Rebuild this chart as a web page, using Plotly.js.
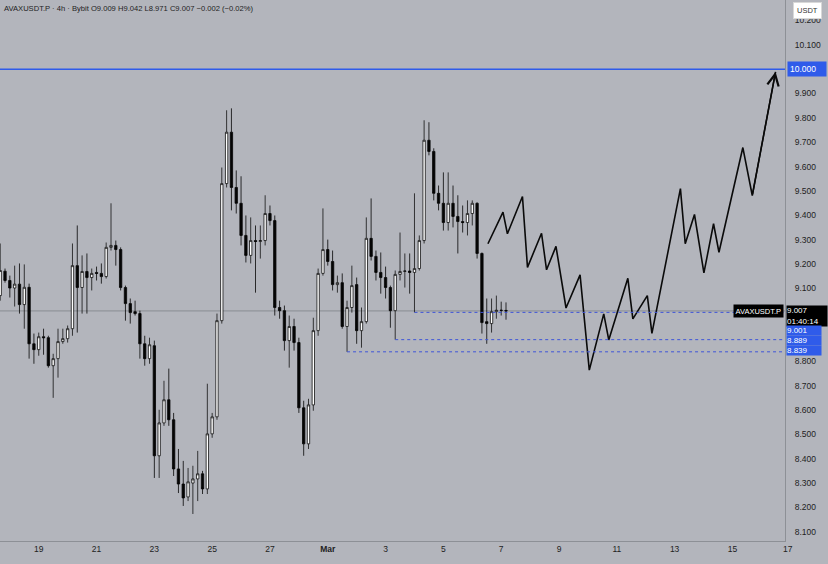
<!DOCTYPE html>
<html>
<head>
<meta charset="utf-8">
<script src="https://cdn.plot.ly/plotly-3.0.1.min.js"></script>
<style>
html,body{margin:0;padding:0;background:#b3b5bc;}
#chart{width:828px;height:564px;}
</style>
</head>
<body>
<div id="chart"></div>
<script>
// ---- DATA ----
const candleStart = '2023-02-17T16:00:00Z';   // first (partially visible) 4h candle
const candleStepHours = 4;

const openP = [
 9.070, 9.170, 9.132, 9.101, 9.117, 9.033, 9.104, 8.872, 8.848, 8.901,
 8.897, 8.782, 8.811, 8.881, 8.893, 8.934, 9.193, 9.103, 9.169, 9.144,
 9.165, 9.161, 9.148, 9.268, 9.276, 9.259, 9.103, 9.037, 9.004, 8.996,
 8.872, 8.811, 8.864, 8.412, 8.547, 8.642, 8.560, 8.358, 8.296, 8.243,
 8.300, 8.317, 8.338, 8.276, 8.502, 8.572, 8.967, 9.530, 9.741, 9.514,
 9.449, 9.317, 9.235, 9.296, 9.292, 9.296, 9.407, 9.378, 9.021, 9.008,
 8.885, 8.943, 8.877, 8.609, 8.461, 8.621, 8.926, 9.161, 9.259, 9.210,
 9.115, 9.123, 8.943, 9.021, 9.115, 8.926, 8.963, 9.305, 9.231, 9.165,
 9.144, 9.103, 9.008, 9.157, 9.169, 9.171, 9.165, 9.181, 9.296, 9.708,
 9.662, 9.490, 9.449, 9.370, 9.449, 9.395, 9.374, 9.370, 9.407, 9.449,
 9.243, 8.963, 8.955, 9.004, 9.010, 9.009];
const highP = [
 9.284, 9.181, 9.152, 9.193, 9.202, 9.198, 9.119, 8.914, 8.918, 8.934,
 8.905, 8.831, 8.934, 8.934, 8.947, 9.284, 9.358, 9.235, 9.243, 9.181,
 9.189, 9.202, 9.288, 9.449, 9.296, 9.268, 9.111, 9.058, 9.049, 9.008,
 8.905, 8.897, 8.885, 8.601, 8.720, 8.770, 8.588, 8.440, 8.391, 8.362,
 8.371, 8.432, 8.350, 8.708, 8.588, 8.996, 9.596, 9.831, 9.839, 9.584,
 9.560, 9.399, 9.391, 9.358, 9.358, 9.482, 9.440, 9.399, 9.049, 9.029,
 8.988, 8.975, 8.897, 8.638, 8.646, 8.979, 9.181, 9.428, 9.300, 9.255,
 9.152, 9.161, 9.049, 9.193, 9.144, 9.021, 9.391, 9.469, 9.255, 9.247,
 9.189, 9.111, 9.173, 9.329, 9.243, 9.243, 9.490, 9.317, 9.790, 9.782,
 9.675, 9.522, 9.576, 9.576, 9.522, 9.482, 9.440, 9.461, 9.461, 9.453,
 9.247, 9.058, 9.058, 9.070, 9.045, 9.042];
const lowP = [
 9.049, 9.123, 9.062, 9.025, 8.996, 8.934, 8.811, 8.790, 8.823, 8.827,
 8.774, 8.650, 8.733, 8.872, 8.877, 8.905, 8.918, 8.996, 8.996, 9.091,
 9.132, 9.119, 9.140, 9.255, 9.193, 9.091, 8.967, 8.955, 8.988, 8.811,
 8.782, 8.790, 8.321, 8.321, 8.535, 8.535, 8.329, 8.259, 8.206, 8.226,
 8.173, 8.226, 8.255, 8.255, 8.486, 8.560, 8.955, 9.514, 9.420, 9.407,
 9.276, 9.206, 9.202, 9.082, 9.222, 9.276, 9.358, 8.988, 8.975, 8.844,
 8.774, 8.844, 8.588, 8.412, 8.440, 8.597, 8.905, 9.152, 9.193, 9.091,
 9.082, 8.934, 8.839, 9.000, 8.872, 8.856, 8.955, 9.214, 9.132, 9.078,
 9.058, 8.938, 8.889, 9.132, 9.103, 9.078, 9.001, 9.173, 9.284, 9.646,
 9.461, 9.420, 9.337, 9.337, 9.350, 9.243, 9.329, 9.317, 9.358, 9.222,
 8.914, 8.872, 8.918, 8.975, 8.988, 8.971];
const closeP = [
 9.173, 9.132, 9.101, 9.117, 9.033, 9.104, 8.872, 8.848, 8.901, 8.897,
 8.782, 8.811, 8.881, 8.893, 8.934, 9.193, 9.103, 9.169, 9.144, 9.161,
 9.161, 9.148, 9.268, 9.276, 9.259, 9.103, 9.037, 9.000, 8.996, 8.872,
 8.811, 8.868, 8.412, 8.547, 8.642, 8.560, 8.358, 8.296, 8.239, 8.305,
 8.317, 8.338, 8.276, 8.502, 8.572, 8.967, 9.530, 9.741, 9.514, 9.449,
 9.317, 9.235, 9.296, 9.292, 9.296, 9.407, 9.378, 9.021, 9.008, 8.885,
 8.943, 8.877, 8.609, 8.461, 8.621, 8.926, 9.161, 9.259, 9.210, 9.115,
 9.123, 8.943, 9.021, 9.111, 8.926, 8.963, 9.305, 9.231, 9.165, 9.144,
 9.103, 9.008, 9.157, 9.169, 9.171, 9.165, 9.181, 9.296, 9.708, 9.662,
 9.490, 9.449, 9.370, 9.449, 9.395, 9.374, 9.370, 9.407, 9.449, 9.243,
 8.959, 8.955, 9.004, 9.010, 9.009, 9.007];

// projected path (hand-drawn zig-zag)
const pathTime = ['2023-03-06 13:00','2023-03-07 01:30','2023-03-07 05:10','2023-03-07 17:40','2023-03-07 21:50',
 '2023-03-08 09:30','2023-03-08 13:40','2023-03-08 21:30','2023-03-09 05:50','2023-03-09 17:30',
 '2023-03-10 01:10','2023-03-10 13:10','2023-03-10 17:20','2023-03-11 09:10','2023-03-11 13:20',
 '2023-03-12 01:20','2023-03-12 05:10','2023-03-13 04:50','2023-03-13 08:50','2023-03-13 16:30',
 '2023-03-14 00:20','2023-03-14 08:20','2023-03-14 12:50','2023-03-15 08:40','2023-03-15 16:30',
 '2023-03-16 11:50'];
const pathPrice = [9.283, 9.413, 9.324, 9.477, 9.186, 9.326, 9.176, 9.272, 9.019, 9.155,
 8.764, 8.995, 8.888, 9.141, 8.974, 9.070, 8.915, 9.509, 9.283, 9.403,
 9.163, 9.365, 9.248, 9.678, 9.481, 9.989];

// levels
const targetLevel = 10.000;
const lastPrice = 9.007;
const supportLevels = [9.001, 8.889, 8.839];
const supportStart = ['2023-03-04 00:00', '2023-03-03 08:00', '2023-03-01 16:00'];

// axes
const xRange = ['2023-02-17 15:50', '2023-03-16 19:40'];
const yRange = [8.062, 10.284];
const xTickVals = ['2023-02-19','2023-02-21','2023-02-23','2023-02-25','2023-02-27','2023-03-01','2023-03-03',
 '2023-03-05','2023-03-07','2023-03-09','2023-03-11','2023-03-13','2023-03-15'];
const xTickText = ['19','21','23','25','27','<b>Mar</b>','3','5','7','9','11','13','15'];
const xEdgeTickText = '17';   // Mar 17 label sitting under the price-scale border
const yTickVals = [8.1,8.2,8.3,8.4,8.5,8.6,8.7,8.8,9.1,9.2,9.3,9.4,9.5,9.6,9.7,9.8,9.9,10.1,10.2];

const header = 'AVAXUSDT.P · 4h · Bybit O9.009 H9.042 L8.971 C9.007 −0.002 (−0.02%)';
const symbolLabel = 'AVAXUSDT.P';
const countdown = '01:40:14';

// ---- BUILD ----
function pad(n){return (n<10?'0':'')+n;}
const t0 = new Date(candleStart).getTime();
const times = openP.map((_, i) => {
  const d = new Date(t0 + i*candleStepHours*3600*1000);
  return d.getUTCFullYear()+'-'+pad(d.getUTCMonth()+1)+'-'+pad(d.getUTCDate())+' '+pad(d.getUTCHours())+':00';
});

const FONT = 'Liberation Sans, Arial, sans-serif';
const BLUE = '#2f5bea';
const traces = [
  {
    type: 'candlestick', x: times, open: openP, high: highP, low: lowP, close: closeP,
    increasing: {fillcolor: '#ffffff', line: {color: '#111111', width: 0.8}},
    decreasing: {fillcolor: '#050505', line: {color: '#050505', width: 0.8}},
    whiskerwidth: 0, hoverinfo: 'skip', showlegend: false
  },
  {
    type: 'scatter', mode: 'lines', x: pathTime, y: pathPrice,
    line: {color: '#0a0a0a', width: 1.6}, hoverinfo: 'skip', showlegend: false
  }
];

const shapes = [
  {type:'line', xref:'paper', x0:0, x1:1, yref:'y', y0:targetLevel, y1:targetLevel, line:{color:BLUE, width:1.5}},
  {type:'line', xref:'paper', x0:0, x1:1, yref:'y', y0:lastPrice, y1:lastPrice, line:{color:'#7f8188', width:0.8}, layer:'below'}
];
supportLevels.forEach((lv, i) => {
  shapes.push({type:'line', xref:'x', x0:supportStart[i], x1:xRange[1], yref:'y', y0:lv, y1:lv,
    line:{color:'#3f55d8', width:1, dash:'dot'}});
});

const boxFont = {family:FONT, size:8, color:'#ffffff'};
const annotations = [
  {xref:'paper', yref:'paper', x:0, y:1, xanchor:'left', yanchor:'top', xshift:2, yshift:-2,
   text: header, showarrow:false, font:{family:FONT, size:7.6, color:'#1e1e1e'}},
  {xref:'paper', yref:'paper', x:1, y:1, xanchor:'left', yanchor:'top', xshift:8, yshift:-2,
   text:'USDT', showarrow:false, bgcolor:'#ffffff', bordercolor:'#d8d8d8', borderwidth:1, borderpad:3,
   font:{family:FONT, size:7.5, color:'#333'}},
  {xref:'paper', yref:'paper', x:1, y:0, xanchor:'center', yanchor:'top', xshift:3, yshift:-1,
   text:xEdgeTickText, showarrow:false, font:{family:FONT, size:8.5, color:'#222'}},
  {xref:'paper', yref:'y', x:1, y:targetLevel, xanchor:'left', yanchor:'middle', xshift:2,
   text:targetLevel.toFixed(3), showarrow:false, bgcolor:BLUE, borderpad:2, width:34, align:'left',
   font:{family:FONT, size:8.5, color:'#ffffff'}},
  {xref:'paper', yref:'y', x:1, y:lastPrice, xanchor:'left', yanchor:'middle', xshift:1, yshift:-5,
   text:lastPrice.toFixed(3)+'<br>'+countdown, showarrow:false, bgcolor:'#000000', borderpad:0, width:40, height:20, align:'left',
   font:{family:FONT, size:8, color:'#ffffff'}},
  {xref:'paper', yref:'y', x:1, y:lastPrice, xanchor:'right', yanchor:'middle', xshift:-1,
   text:symbolLabel, showarrow:false, bgcolor:'#000000', borderpad:1.5,
   font:{family:FONT, size:7.5, color:'#ffffff'}},
  {xref:'x', yref:'y', x: pathTime[pathTime.length-1], y: pathPrice[pathPrice.length-1],
   ax: pathTime[pathTime.length-2], ay: pathPrice[pathPrice.length-2], axref:'x', ayref:'y',
   showarrow:true, arrowhead:5, arrowsize:1.6, arrowwidth:1.4, arrowcolor:'#0a0a0a', text:'', standoff:0}
];
const stackShift = [-18, -1, 1];
supportLevels.forEach((lv, i) => {
  annotations.push({xref:'paper', yref:'y', x:1, y:lv, xanchor:'left', yanchor:'middle', xshift:1, yshift:stackShift[i],
    text:lv.toFixed(3), showarrow:false, bgcolor:BLUE, borderpad:0, width:34, height:9, align:'left', font:boxFont});
});

const layout = {
  width: 828, height: 564,
  margin: {l:0, r:43, t:0, b:23, pad:0},
  paper_bgcolor: '#b3b5bc', plot_bgcolor: '#b3b5bc',
  showlegend: false,
  xaxis: {
    type:'date', range: xRange, rangeslider:{visible:false},
    tickvals: xTickVals, ticktext: xTickText, ticks:'', showgrid:false, zeroline:false,
    showline:true, linecolor:'#8d9096', linewidth:1,
    tickfont:{family:FONT, size:8.5, color:'#222'}, fixedrange:true
  },
  yaxis: {
    side:'right', range: yRange, tickvals: yTickVals, ticktext: yTickVals.map(v => v.toFixed(3)),
    ticks:'outside', ticklen:7, tickcolor:'rgba(0,0,0,0)', showgrid:false, zeroline:false,
    showline:true, linecolor:'#8d9096', linewidth:1,
    tickfont:{family:FONT, size:8.5, color:'#222'}
  },
  shapes: shapes,
  annotations: annotations
};

Plotly.newPlot('chart', traces, layout, {displayModeBar:false, staticPlot:true});
</script>
</body>
</html>
